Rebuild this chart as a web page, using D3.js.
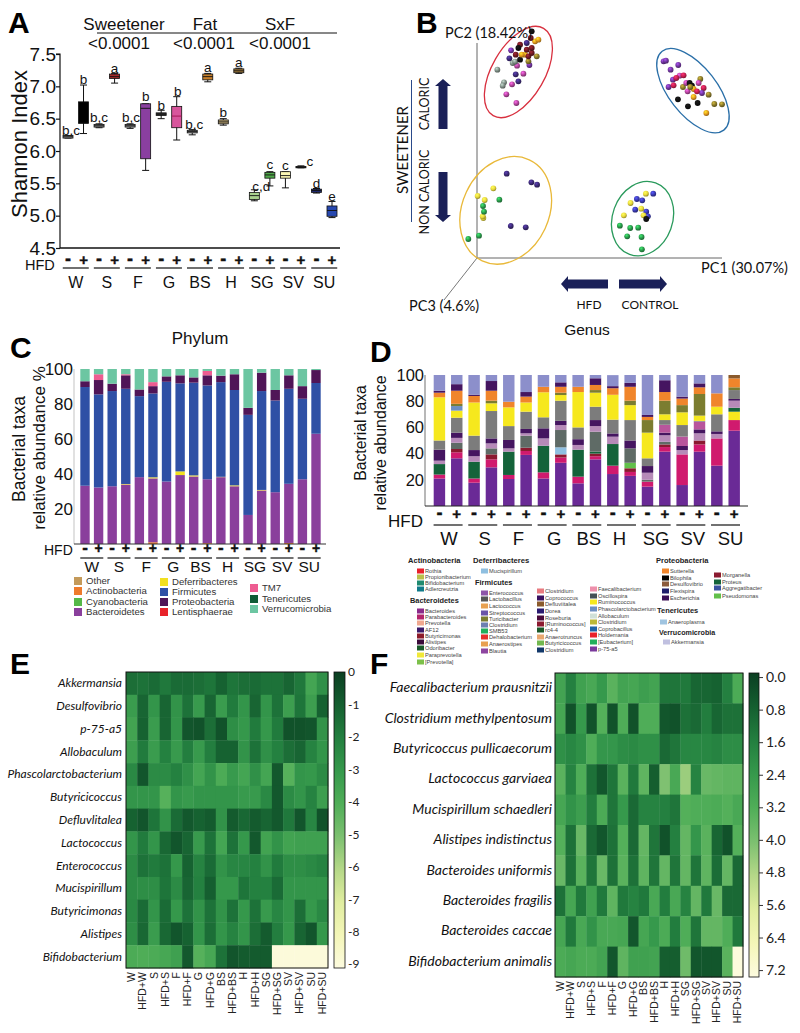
<!DOCTYPE html>
<html><head><meta charset="utf-8">
<script src="https://cdn.jsdelivr.net/npm/d3@7/dist/d3.min.js"></script>
<style>
html,body{margin:0;padding:0;background:#fff}
svg{display:block}
text{font-family:"Liberation Sans",Arial,sans-serif;fill:#111}
.lato{font-family:Lato,"Open Sans",sans-serif}
</style></head><body><div id="c"></div>
<script>
const groups=["W","S","F","G","BS","H","SG","SV","SU"];
const conditions=["W","HFD+W","S","HFD+S","F","HFD+F","G","HFD+G","BS","HFD+BS","H","HFD+H","SG","HFD+SG","SV","HFD+SV","SU","HFD+SU"];

// Panel A
const boxQ1=[6.2,6.43,6.37,7.12,6.37,5.88,6.55,6.36,6.28,7.1,6.42,7.21,5.25,5.58,5.58,5.74,5.36,4.99];
const boxMed=[6.22,6.43,6.39,7.15,6.39,6.66,6.57,6.54,6.3,7.15,6.45,7.24,5.31,5.63,5.62,5.75,5.39,5.08];
const boxQ3=[6.24,6.76,6.41,7.19,6.41,6.73,6.59,6.69,6.32,7.19,6.48,7.27,5.36,5.67,5.68,5.76,5.41,5.15];
const boxLo=[6.2,6.27,6.36,7.05,6.35,5.7,6.5,6.17,6.25,7.07,6.4,7.2,5.23,5.46,5.43,5.74,5.35,4.97];
const boxHi=[6.24,7.02,6.42,7.2,6.42,6.73,6.63,6.84,6.33,7.2,6.5,7.28,5.4,5.68,5.68,5.77,5.42,5.22];
const boxColors=["#999","#000","#999","#a52a2a","#999","#8a3fa0","#333","#d8559c","#999","#c77f2a","#c4ad78","#a47c3a","#a8d08d","#4fa84a","#fbf7b5","#222","#1f2a70","#2748b0"];
const letters=["b,c","b","b,c","a","b,c","b","b","b","b,c","a","b","a","c,d","c","c","c","d","e"];
const letterAt=[6.25,7.04,6.45,7.2,6.45,6.77,6.63,6.85,6.34,7.22,6.53,7.3,5.38,5.72,5.71,5.77,5.43,5.23];
const letterShift=[3,0,0,0,1,0,0,1,2,0,0,0,7,0,0,9,0,0];
const shannonTicks=[4.5,5,5.5,6,6.5,7,7.5];
const testHeads=["Sweetener","Fat","SxF"];
const testP=["<0.0001","<0.0001","<0.0001"];

// Panel B : scores
const pcaRed=[[61,565,"g"],[81,527,"g"],[77,517,"g"],[105,521,"m"],[124,530,"n"],[88,491,"m"],[118,465,"m"],[116,551,"n"],[139,553,"m"],[120,577,"m"],[107,585,"g"],[114,589,"g"],[97,599,"n"],[102,623,"p"],[116,610,"r"],[129,595,"k"],[157,579,"p"],[179,605,"o"],[154,590,"o"],[144,610,"y"],[134,610,"y"],[154,605,"r"],[164,615,"r"],[149,625,"r"],[129,640,"r"],[149,645,"n"],[174,650,"y"],[161,660,"r"],[164,630,"r"],[124,630,"k"],[184,655,"y"],[164,680,"k"]];
const pcaBlue=[[559,590,"p"],[566,592,"p"],[580,565,"p"],[603,579,"p"],[607,547,"m"],[587,535,"p"],[619,548,"c"],[597,540,"c"],[574,513,"p"],[589,518,"c"],[617,513,"o"],[627,525,"m"],[644,517,"k"],[637,525,"k"],[669,537,"o"],[664,525,"m"],[631,500,"m"],[649,507,"y"],[679,510,"c"],[674,495,"p"],[694,490,"o"],[649,483,"y"],[602,476,"k"],[632,455,"k"],[661,465,"k"],[711,462,"o"],[734,461,"o"],[687,435,"y"],[639,513,"o"],[659,500,"c"]];
const pcaGold=[[89,253,"n"],[163,227,"n"],[180,220,"n"],[101,96,"n"],[146,92,"n"],[49,209,"l"],[2,186,"l"],[23,174,"l"],[19,120,"l"],[17,125,"l"],[67,175,"e"],[18,156,"e"],[21,139,"e"],[-26,57,"e"],[6,67,"e"]];
const pcaGreen=[[528,193,"b"],[479,177,"b"],[495,173,"b"],[474,145,"b"],[507,139,"b"],[512,125,"b"],[506,193,"l"],[460,165,"l"],[492,148,"l"],[440,128,"l"],[499,128,"l"],[507,117,"k"],[428,97,"e"],[459,90,"e"],[483,91,"e"],[450,65,"e"],[493,63,"e"],[494,26,"e"]];
const pointColors={g:"#7f8f86",m:"#b2459c",n:"#3c2a75",p:"#71369f",r:"#6d1a22",k:"#111",o:"#8a7a2a",y:"#e59a1d",c:"#c4204f",l:"#e8d93c",e:"#2a9a4a",b:"#3a3ab0"};
const ellipseCx=[124,647,86,496], ellipseCy=[558,502,143,118], ellipseA=[151,150,167,114], ellipseB=[79,72,130,90], ellipseTilt=[30,-38,25,20];
const ellipseColors=["#d8303f","#2a6fa8","#e9b93a","#2a9a5c"];

// Panel C
const phylaStack={
 Actinobacteria:[0,0,0,0,0,1,0,0,0,.5,0,0,0,0,0,.6,0,0],
 Bacteroidetes:[33.3,32.3,33,34,38.2,36.5,35.7,39.4,38.6,36.5,38.2,33,16.6,30.6,29.6,33.8,37,63],
 Deferribacteres:[0,0,0,.3,0,.6,0,2.1,.6,0,.2,.5,0,.3,0,0,0,0],
 Firmicutes:[56.4,53.2,54.4,54.4,46.3,47.9,57,50.3,53,53.6,54.1,54.5,57.2,56.5,52.4,54.3,46,29],
 Proteobacteria:[3.3,8.2,4.2,7.7,3.8,4.2,3.1,4.6,3,5.8,3.7,9,4,10.5,6,7.7,7.2,7.4],
 TM7:[0,3.3,0,.6,0,2.3,0,0,0,2.5,0,0,0,0,0,0,0,0],
 Verrucomicrobia:[7,3,8.4,3,11.7,7.5,4.2,3.6,4.8,1.1,3.8,3,22.2,2.1,12,3.6,9.8,.6]};
const phylaColors={Actinobacteria:"#ee7b2c",Bacteroidetes:"#8a3f9c",Deferribacteres:"#f2e020",Firmicutes:"#2f50a5",Proteobacteria:"#501557",TM7:"#ee5c91",Verrucomicrobia:"#6cc6a2"};
const phylaLegend=[["Other","#c49a5a"],["Actinobacteria","#ee7b2c"],["Cyanobacteria","#55b848"],["Bacteroidetes","#8a3f9c"],["Deferribacteres","#f2e020"],["Firmicutes","#2f50a5"],["Proteobacteria","#501557"],["Lentisphaerae","#e8232a"],["TM7","#ee5c91"],["Tenericutes","#0f5c36"],["Verrucomicrobia","#6cc6a2"]];
const abundanceTicks=[20,40,60,80,100];

// Panel D
const genusStack={
 bacteroides:[21,36.4,17.8,29.5,20.6,39,21,33,17.3,35.6,24.4,23,14.8,41.5,16,41.5,30.8,57.5],
 parabacteroides:[3,4.6,3.2,6.1,3.1,3,4.7,4,5.1,2.4,6.4,3,3.8,3.5,23.4,5.5,20.8,8.1],
 paraprevotella:[0,0,0,0,0,0,0,0,0,0,0,0,0,0,0,0,0,6.4],
 butyricimonas:[0,2.5,0,3.8,0,2.5,0,2.4,0,2,0,2.8,0,2,0,3,0,0],
 mucispirillum:[0,0,0,0,0,0,0,5.4,0,0,0,0,0,0,0,0,0,0],
 pseudomonas:[0,0,0,0,0,0,0,0,0,0,0,4.2,0,0,0,0,0,0],
 odoribacter:[8,0,12.8,0,17.8,0,20.3,0,20.6,1.5,16.5,0,0,0,0,0,0,3],
 oscillospira:[0,4.8,0,4.6,0,9.2,0,13.2,0,15.2,0,11,1.4,2,0,0,0,0],
 enterococcus:[2.6,3.7,4.2,3.8,2.5,1.8,5.6,3.8,3.6,4.3,5.6,0,5.4,5,3.3,5.5,3.4,5.4],
 alistipes:[8.4,4,4.7,3.8,6.4,3.3,7.7,3.2,4.4,4.6,2.5,6,5.1,2,3.1,3,2,1.3],
 blautia:[0,0,0,0,0,0,0,0,0,0,0,0,0,6,7.2,5.9,0,0],
 lactobacillus:[7,11.4,11,20.9,10.6,13.2,8.4,15.4,9,10.2,10.5,15.6,5.9,3.6,8.8,.6,13,6.8],
 ruminococcus:[33,5.4,25.3,5.9,14.3,7,19.1,4.3,27,10.7,19,11.4,19.6,4.4,9.7,4,5.8,0],
 phascolarctobacterium:[0,3.5,0,0,0,0,0,0,0,0,0,0,0,0,0,0,0,0],
 turicibacter:[0,1.7,0,2,0,0,0,1.8,0,2,0,3.4,9.6,10.4,5.5,16.5,0,2.1],
 sutterella:[3.5,10,5,7.6,4.3,4.5,4.2,4.5,4,3.9,5,10.6,2.4,6.6,5,5.1,10.2,6.8],
 escherichia:[1.5,5,1,7.4,0,3.5,0,3.4,0,5.1,1.6,3,1.5,9,1.5,3,0,0],
 desulfovibrio:[0,0,0,0,0,0,0,0,0,0,0,0,0,0,0,0,0,2.6],
 akkermansia:[12,7,15,4.6,20.4,13,9,5.6,9,2.5,8.4,6,30.5,4,16.5,6.4,14,0]};
const genusColors={bacteroides:"#6a2a96",parabacteroides:"#d01a6e",paraprevotella:"#f6e81e",butyricimonas:"#8b1a30",mucispirillum:"#8fbfe0",pseudomonas:"#62c04a",odoribacter:"#14633a",oscillospira:"#5f6b66",enterococcus:"#b68ab8",alistipes:"#451560",blautia:"#b8559c",lactobacillus:"#7c7c7c",ruminococcus:"#f6e81e",phascolarctobacterium:"#6d8fc2",turicibacter:"#7b7d30",sutterella:"#f0852b",escherichia:"#451560",desulfovibrio:"#8a5a2c",akkermansia:"#8c8fcb"};
const groupLabelShift=[1,2,1,2,2,-2,0,2,5];

const genusLegendHeads=[["Actinobacteria",408,563],["Deferribacteres",473,563],["Firmicutes",475,585],["Bacteroidetes",410,603],["Proteobacteria",656,563],["Tenericutes",657,613],["Verrucomicrobia",659,635]];
const genusLegend=[
 ["Rothia","#e8202a",417,571],["Propionibacterium","#b9c04a",417,577],["Bifidobacterium","#1f8a70",417,583],["Adlercreutzia","#0f7a8a",417,589],
 ["Bacteroides","#8b2a8b",417,611],["Parabacteroides","#b3246c",417,617],["Prevotella","#f0a890",417,623],["AF12","#3a1a6a",417,630],["Butyricimonas","#8b1a2a",417,636],["Alistipes","#3a0a3a",417,642],["Odoribacter","#1a5a2a",417,648],["Paraprevotella","#f0e838",417,655],["[Prevotella]","#7cc04a",417,662],
 ["Mucispirillum","#8fbfe0",481,571],
 ["Enterococcus","#8e55a8",481,593],["Lactobacillus","#555",481,599],["Lactococcus","#e8a050",481,606],["Streptococcus","#6a55a8",481,613],["Turicibacter","#7b7d30",481,619],["Clostridium","#6d80b0",481,625],["SMB53","#22b05a",481,631],["Dehalobacterium","#e8302a",481,637],["Anaerostipes","#e8a050",481,644],["Blautia","#8e45a0",481,651],
 ["Clostridium","#e87a80",537,591],["Coprococcus","#3a1060",537,598],["Defluviitalea","#8a5a2c",537,604],["Dorea","#2a1a70",537,611],["Roseburia","#4a0a3a",537,618],["[Ruminococcus]","#8b1a30",537,624],["rc4-4","#1a5a2a",537,630],["Anaerotruncus","#e8a870",537,637],["Butyricicoccus","#72b850",537,643],["Clostridium","#12386a",537,650],
 ["Faecalibacterium","#ee90ac",590,589],["Oscillospira","#445055",590,596],["Ruminococcus","#f6e81e",590,602],["Phascolarctobacterium","#6d8fc2",590,609],["Allobaculum","#d0e0d8",590,616],["Clostridium","#bcb838",590,622],["Coprobacillus","#1e62a8",590,629],["Holdemania","#e8202a",590,635],["[Eubacterium]","#22b05a",590,642],["p-75-a5","#7a3a9c",590,649],
 ["Sutterella","#f0852b",662,571],["Bilophila","#000",662,578],["Desulfovibrio","#8a5a3c",662,584],["Flexispira","#1e1e6a",662,591],["Escherichia","#3a0f55",662,598],
 ["Morganella","#8b1a30",714,575],["Proteus","#14633a",714,582],["Aggregatibacter","#3a52a0",714,588],["Pseudomonas","#62c04a",714,596],
 ["Anaeroplasma","#a0c4e0",660,622],["Akkermansia","#c0c0e0",663,642]];

// Panel E
const rowsE=["Akkermansia","Desulfovibrio","p-75-a5","Allobaculum","Phascolarctobacterium","Butyricicoccus","Defluvlitalea","Lactococcus","Enterococcus","Mucispirillum","Butyricimonas","Alistipes","Bifidobacterium"];
const heatE=[
[-1.5,-1.6,-1.4,-1.8,-1.4,-1.4,-1.5,-1.7,-1.1,-1.7,-1.5,-1.4,-1.6,-1.6,-1.2,-1.8,-3.6,-2.7],
[-3.2,-1.2,-2.9,-1.2,-2.8,-1.6,-3.1,-1.2,-3.2,-1.9,-2.9,-1.2,-2.9,-1.6,-3.3,-1.7,-3.3,-1.1],
[-3.5,-1.1,-3.2,-1.2,-2.9,-.7,-.6,-1.5,-.6,-2.6,-3,-1.9,-3,-1.9,-.6,-.6,-.7,-2.8],
[-3.3,-1.9,-3.2,-2.1,-3.1,-2,-3.1,-2,-1.1,-1.1,-2.8,-1.6,-2.7,-2.1,-1.5,-1.2,-2.2,-2.9],
[-2.4,-.7,-2.5,-2.5,-2.1,-2.7,-3.6,-2.8,-3.9,-3.1,-3.6,-2.7,-3.6,-.8,-4.2,-2.9,-3,-2.5],
[-2.9,-2.9,-2.9,-4.2,-2.9,-3.1,-2.9,-2.9,-2.9,-2.9,-3.1,-3.1,-2.4,-.8,-2.5,-2.9,-2.2,-3.3],
[-1.1,-.7,-1.7,-2.8,-1.4,-.8,-1.1,-.9,-2.8,-.9,-1.3,-.9,-1.2,-.8,-1.8,-.7,-2.3,-.6],
[-2.9,-1.9,-2.9,-1.3,-.7,-1.2,-3.1,-1.6,-3.6,-1.6,-3,-.8,-3.5,-2.8,-3.5,-3.4,-3.4,-3.4],
[-2.5,-1.6,-1.9,-1.6,-3,-1.1,-2.2,-1.4,-2.8,-2.3,-2.3,-2.1,-2.8,-1.9,-2.6,-2.6,-2.4,-2.2],
[-2.5,-2.6,-2.6,-1.7,-2.5,-1.2,-2.1,-1,-3,-3,-1.7,-2.1,-2.1,-1.4,-2.9,-2.9,-2.9,-2.9],
[-2.4,-1.4,-2.9,-1.4,-3,-1.6,-2.8,-1.6,-2.8,-1.6,-3,-1.6,-3.1,-2.3,-2.9,-1.5,-3,-2.4],
[-2.6,-1.3,-3.2,-1.3,-.7,-1.1,-2.9,-1.5,-2.9,-2.2,-2.9,-1.5,-.9,-2,-3,-1.2,-.7,-3],
[-3.9,-4,-3.9,-3.7,-3.4,-.8,-4.2,-3.7,-1.6,-.7,-.9,-.9,-.9,-9,-9,-9,-9,-9]];
const ticksE=[0,-1,-2,-3,-4,-5,-6,-7,-8,-9];

// Panel F
const rowsF=["Faecalibacterium prausnitzii","Clostridium methylpentosum","Butyricoccus pullicaecorum","Lactococcus garviaea","Mucispirillum schaedleri","Alistipes indistinctus","Bacteroides uniformis","Bacteroides fragilis","Bacteroides caccae","Bifidobacterium animalis"];
const heatF=[
[2.8,1.6,2.7,3,2.4,3.4,2.8,2.9,2.6,2.8,1.3,1.3,1.4,.9,.9,.8,1.6,3.1],
[2.9,.4,2.4,.4,3.3,.4,3.2,.4,3.2,3.2,.5,.4,1.2,1,1.5,.9,1.2,1.2],
[2.1,1.8,2.1,3.2,2.3,2.3,2,1.9,2.1,2.1,1,1.3,1.8,1.8,1.8,1.7,2,2],
[3.4,1.7,3.2,1.2,.5,1.3,3.4,1.4,3.5,.7,4.1,3,4.5,1.7,3.7,3.6,3.5,3.5],
[2.9,2.2,2.6,1.5,3.1,1.3,2.4,1,1.7,1.7,1.6,1.3,3.3,3.2,3.2,3.1,3.3,3],
[3.3,1.2,3.7,1,.5,1.2,3.3,1,3.6,1.3,.4,1.6,3.6,2.3,3.4,.9,.4,3.3],
[3.7,1.2,3.4,1.3,3.7,1.2,3.4,1.2,3.5,1.3,3.6,1.3,3.6,1.3,3.5,1.1,3.6,1],
[1.2,2.9,1.4,2.7,1.4,3.5,1.4,1.7,1.4,3,1.5,3,1.7,3.6,1.4,3.7,1,1],
[2.9,1.4,3,2.2,3,3,2.9,.5,2.9,2.4,3.1,1.5,3.2,1.3,3.6,3.6,3.2,1.4],
[3.1,2.9,3.1,3.1,2.8,.5,3.5,2.7,2.7,2.8,.7,.7,3.8,.5,.5,.5,3.4,7.3]];
const ticksF=[0,.8,1.6,2.4,3.2,4,4.8,5.6,6.4,7.2];
const heatRamp=["#0b3f22","#155f30","#237f3f","#36994c","#50ae58","#7cc070","#b5d888","#e0eda0","#f4f6b8","#fdfbdf"];

const W=800,H=1033;
const svg=d3.select("#c").append("svg").attr("width",W).attr("height",H).attr("viewBox",[0,0,W,H]);
svg.append("rect").attr("width",W).attr("height",H).attr("fill","#fff");
const T=(g,x,y,s,size,opt={})=>{const t=g.append("text").attr("x",x).attr("y",y).attr("font-size",size).text(s);
 if(opt.anchor)t.attr("text-anchor",opt.anchor); if(opt.bold)t.attr("font-weight","bold");
 if(opt.cls)t.attr("class",opt.cls); if(opt.rot)t.attr("transform",`rotate(${opt.rot} ${x} ${y})`); if(opt.italic)t.attr("font-style","italic"); if(opt.fill)t.style("fill",opt.fill); return t;};
[["A",8,33],["B",416,33],["C",10,358],["D",370,362],["E",10,674],["F",370,674]].forEach(d=>T(svg,d[1],d[2],d[0],30,{bold:1,fill:"#000"}));
const axisStyle=(g,w,fs)=>{g.selectAll("path,line").attr("stroke","#111").attr("stroke-width",w);g.selectAll("text").attr("font-size",fs).style("fill","#111");};

// A --------------------------------------------------
const A=svg.append("g");
const ax=d3.scalePoint().domain(d3.range(18)).range([68,332]);
const ay=d3.scaleLinear().domain([4.5,7.5]).range([248,54]);
A.append("g").attr("transform","translate(60,0)").call(d3.axisLeft(ay).tickValues(shannonTicks).tickFormat(d3.format(".1f")).tickSize(4).tickPadding(0)).call(axisStyle,1.2,19).select(".domain").attr("d","M-4,54H0V248");
A.append("line").attr("x1",60).attr("x2",340).attr("y1",ay(4.5)).attr("y2",ay(4.5)).attr("stroke","#111").attr("stroke-width",1.3);
T(A,27,144,"Shannon Index",22,{anchor:"middle",rot:-90});
d3.range(18).forEach(i=>{const x=ax(i),g=A.append("g");
 g.append("line").attr("x1",x).attr("x2",x).attr("y1",ay(boxLo[i])).attr("y2",ay(boxHi[i])).attr("stroke","#111").attr("stroke-width",1);
 [boxLo[i],boxHi[i]].forEach(v=>g.append("line").attr("x1",x-3.5).attr("x2",x+3.5).attr("y1",ay(v)).attr("y2",ay(v)).attr("stroke","#111").attr("stroke-width",1));
 g.append("rect").attr("x",x-5).attr("width",10).attr("y",ay(boxQ3[i])).attr("height",Math.max(1,ay(boxQ1[i])-ay(boxQ3[i]))).attr("fill",boxColors[i]).attr("stroke","#111").attr("stroke-width",.8);
 g.append("line").attr("x1",x-5).attr("x2",x+5).attr("y1",ay(boxMed[i])).attr("y2",ay(boxMed[i])).attr("stroke",i==7?"#a01050":"#111").attr("stroke-width",.9);
 T(A,x+letterShift[i],ay(letterAt[i]),letters[i],13.5,{anchor:"middle"});
});
testHeads.forEach((s,i)=>T(A,[124,205,280][i],30,s,17,{anchor:"middle"}));
testP.forEach((s,i)=>T(A,[119,204,280][i],49,s,17,{anchor:"middle"}));
A.append("line").attr("x1",97).attr("x2",337).attr("y1",33).attr("y2",33).attr("stroke","#111").attr("stroke-width",1);
function hfdRow(g,xs,step,yPm,yLine,yLab,half,pmSize,labSize,shift,hx,hy,hs){
 T(g,hx,hy,"HFD",hs,{});
 groups.forEach((gr,i)=>{const a=xs(i*2),b=xs(i*2+1),m=(a+b)/2;
  T(g,a,yPm,"-",pmSize+3,{anchor:"middle",bold:1}).attr("stroke","#111").attr("stroke-width",.4);
  T(g,b,yPm,"+",pmSize,{anchor:"middle",bold:1}).attr("stroke","#111").attr("stroke-width",.4);
  g.append("line").attr("x1",m-half).attr("x2",m+half).attr("y1",yLine).attr("y2",yLine).attr("stroke","#111").attr("stroke-width",1.2);
  T(g,m+(shift?shift[i]:0),yLab,gr,labSize,{anchor:"middle"});});
}
hfdRow(A,ax,0,265,268,288,13,15,16,null,25,270,14.5);

// B --------------------------------------------------
const B=svg.append("g");
const bx=d3.scaleLinear().domain([0,734]).range([477,722]);
const by=d3.scaleLinear().domain([0,645]).range([258,43]);
[[0,0,0,645],[0,734,0,0]].forEach(d=>B.append("line").attr("x1",bx(d[0])).attr("x2",bx(d[1])).attr("y1",by(d[2])).attr("y2",by(d[3])).attr("stroke","#666").attr("stroke-width",1));
B.append("line").attr("x1",bx(0)).attr("y1",by(0)).attr("x2",444).attr("y2",300).attr("stroke","#555").attr("stroke-width",.8);
ellipseCx.forEach((c,i)=>B.append("ellipse").attr("cx",bx(c)).attr("cy",by(ellipseCy[i]))
 .attr("rx",bx(ellipseB[i])-bx(0)).attr("ry",bx(ellipseA[i])-bx(0))
 .attr("transform",`rotate(${ellipseTilt[i]} ${bx(c)} ${by(ellipseCy[i])})`)
 .attr("fill","none").attr("stroke",ellipseColors[i]).attr("stroke-width",1.3));
const defs=svg.append("defs");
Object.entries(pointColors).forEach(([k,c])=>{const gr=defs.append("radialGradient").attr("id","s"+k).attr("cx","38%").attr("cy","32%").attr("r","70%");
 gr.append("stop").attr("offset","0%").attr("stop-color",d3.color(c).brighter(1.2));
 gr.append("stop").attr("offset","55%").attr("stop-color",c);
 gr.append("stop").attr("offset","100%").attr("stop-color",d3.color(c).darker(1.3));});
[pcaRed,pcaBlue,pcaGold,pcaGreen].forEach(set=>B.append("g").selectAll("circle").data(set).join("circle")
 .attr("cx",d=>bx(d[0])).attr("cy",d=>by(d[1])).attr("r",2.9).attr("fill",d=>`url(#s${d[2]})`));
const navy="#1a2058";
function arrow(g,x0,y0,x1,y1){
 const L=Math.hypot(x1-x0,y1-y0),ux=(x1-x0)/L,uy=(y1-y0)/L,nx=-uy,ny=ux,s=4.5,h=8,hl=7;
 const p=(a,b)=>[x0+ux*a+nx*b,y0+uy*a+ny*b];
 g.append("polygon").attr("points",[p(0,-s),p(L-hl,-s),p(L-hl,-h),p(L,0),p(L-hl,h),p(L-hl,s),p(0,s)].map(q=>q.join(",")).join(" ")).attr("fill",navy);}
arrow(B,443,129,443,79);arrow(B,443,172,443,222);arrow(B,608,284,561,284);arrow(B,619,284,667,284);
B.append("line").attr("x1",411.5).attr("x2",411.5).attr("y1",80).attr("y2",222).attr("stroke","#2a4a8a").attr("stroke-width",1);
T(B,408,150,"SWEETENER",15,{anchor:"middle",rot:-90,cls:"lato"});
T(B,429,104,"CALORIC",12.5,{anchor:"middle",rot:-90,cls:"lato"});
T(B,429,192,"NON CALORIC",12.5,{anchor:"middle",rot:-90,cls:"lato"});
T(B,589,309,"HFD",12,{anchor:"middle",cls:"lato"});T(B,650,309,"CONTROL",12,{anchor:"middle",cls:"lato"});
T(B,587,335,"Genus",15.5,{anchor:"middle"});
T(B,445,38,"PC2 (18.42%)",14.5,{cls:"lato"});T(B,701,273,"PC1 (30.07%)",14.5,{cls:"lato"});T(B,409,311,"PC3 (4.6%)",14.5,{cls:"lato"});

// C --------------------------------------------------
const C=svg.append("g");
const cx=d3.scaleBand().domain(d3.range(18)).range([76.1,324.9]).padding(.31);
const cy=d3.scaleLinear().domain([0,100]).range([544,369]);
const cKeys=Object.keys(phylaStack);
const cSeries=d3.stack().keys(cKeys).value((i,k)=>phylaStack[k][i])(d3.range(18));
C.selectAll("g.s").data(cSeries).join("g").attr("fill",s=>phylaColors[s.key]).selectAll("rect").data(s=>s.map((d,i)=>({d,i}))).join("rect")
 .attr("x",e=>cx(e.i)).attr("width",cx.bandwidth()).attr("y",e=>cy(e.d[1])).attr("height",e=>cy(e.d[0])-cy(e.d[1]));
C.append("g").attr("transform","translate(74,0)").call(d3.axisLeft(cy).tickValues(abundanceTicks).tickSize(0).tickPadding(1)).call(axisStyle,.7,17).select(".domain").attr("d","M0,369V544").attr("stroke","#aaa");
C.append("line").attr("x1",74).attr("x2",326).attr("y1",544).attr("y2",544).attr("stroke","#333").attr("stroke-width",1);
T(C,200,344,"Phylum",17,{anchor:"middle"});
T(C,25,449,"Bacterial taxa",17.5,{anchor:"middle",rot:-90});
T(C,45,448,"relative abundance %",17,{anchor:"middle",rot:-90});
const cc=i=>cx(i)+cx.bandwidth()/2;
hfdRow(C,cc,0,553,558,572,11.5,14,15.5,null,44,555,14);
const legPos=[[77,581],[77,591],[77,602],[77,612],[163,582],[163,592],[163,602],[163,612],[253,588],[253,599],[253,609]];
phylaLegend.forEach((d,i)=>{const [x,y]=legPos[i];C.append("rect").attr("x",x-3).attr("y",y-4).attr("width",8).attr("height",8).attr("fill",d[1]);T(C,x+9,y+3,d[0],9.6,{fill:"#333"});});

// D --------------------------------------------------
const D=svg.append("g");
const dx=d3.scaleBand().domain(d3.range(18)).range([427.8,745.8]).padding(.34);
const dy=d3.scaleLinear().domain([0,100]).range([506,375]);
const dKeys=Object.keys(genusStack);
const dSeries=d3.stack().keys(dKeys).value((i,k)=>genusStack[k][i])(d3.range(18));
D.selectAll("g.s").data(dSeries).join("g").attr("fill",s=>genusColors[s.key]).selectAll("rect").data(s=>s.map((d,i)=>({d,i}))).join("rect")
 .attr("x",e=>dx(e.i)).attr("width",dx.bandwidth()).attr("y",e=>dy(e.d[1])).attr("height",e=>dy(e.d[0])-dy(e.d[1]));
D.append("g").attr("transform","translate(425,0)").call(d3.axisLeft(dy).tickValues(abundanceTicks).tickSize(0).tickPadding(1)).call(axisStyle,.7,16.5).select(".domain").attr("d","M0,375V506").attr("stroke","#333");
D.append("line").attr("x1",425).attr("x2",748).attr("y1",506).attr("y2",506).attr("stroke","#222").attr("stroke-width",1);
T(D,366,433,"Bacterial taxa",15.8,{anchor:"middle",rot:-90});
T(D,386,443,"relative abundance",16,{anchor:"middle",rot:-90});
const dc=i=>dx(i)+dx.bandwidth()/2;
hfdRow(D,dc,0,519,525,545,14.5,15,18.5,groupLabelShift,388,527,17);
genusLegendHeads.forEach(d=>T(D,d[1],d[2],d[0],7,{bold:1,fill:"#222"}).attr("textLength",d[0].length*3.75).attr("lengthAdjust","spacingAndGlyphs"));
genusLegend.forEach(d=>{D.append("rect").attr("x",d[2]).attr("y",d[3]-2.5).attr("width",7).attr("height",5).attr("fill",d[1]);
 T(D,d[2]+8,d[3]+2.2,d[0],5.7,{fill:"#444"});});

// E, F -----------------------------------------------
function heat(g,rows,data,x0,x1,y0,y1,bx0,bx1,domTop,domBot,labelEnd,labelSize,colY,ticks,fmt,tx){
 const xs=d3.scaleBand().domain(conditions).range([x0,x1]);
 const ys=d3.scaleBand().domain(rows).range([y0,y1]);
 const bar=d3.scaleLinear().domain([domTop,domBot]).range([y0,y1]);
 const ramp=d3.scaleLinear().domain(heatRamp.map((c,i)=>i/9)).range(heatRamp).interpolate(d3.interpolateRgb);
 const col=v=>ramp(Math.min(1,Math.max(0,(v-domTop)/(domBot-domTop))));
 rows.forEach((r,ri)=>data[ri].forEach((v,ci)=>g.append("rect").attr("x",xs(conditions[ci])).attr("y",ys(r)).attr("width",xs.bandwidth()+.4).attr("height",ys.bandwidth()+.4).attr("fill",col(v))));
 g.append("rect").attr("x",x0).attr("y",y0).attr("width",x1-x0).attr("height",y1-y0).attr("fill","none").attr("stroke","#111").attr("stroke-width",1);
 rows.forEach(r=>T(g,labelEnd,ys(r)+ys.bandwidth()/2+4,r,labelSize,{anchor:"end",italic:1,cls:"lato"}));
 conditions.forEach(c=>{const x=xs(c)+xs.bandwidth()/2+3.5;T(g,x,colY,c,10.5,{anchor:"end",rot:-90,fill:"#222"});});
 const gid="grad"+x0;const gr=defs.append("linearGradient").attr("id",gid).attr("x1",0).attr("x2",0).attr("y1",0).attr("y2",1);
 heatRamp.forEach((c,i)=>gr.append("stop").attr("offset",i/9).attr("stop-color",c));
 g.append("rect").attr("x",bx0).attr("y",y0).attr("width",bx1-bx0).attr("height",y1-y0).attr("fill",`url(#${gid})`).attr("stroke","#111").attr("stroke-width",.8);
 const ag=g.append("g").attr("transform",`translate(${bx1},0)`).call(d3.axisRight(bar).tickValues(ticks).tickFormat(fmt).tickSize(tx.size).tickPadding(tx.pad));
 ag.select(".domain").remove(); ag.selectAll("line").attr("stroke","#333");ag.selectAll("text").attr("font-size",tx.font).attr("class","lato").style("fill","#222");
}
heat(svg.append("g"),rowsE,heatE,126,328,672,968,334,345,0,-9.12,122,12,972,ticksE,v=>String(v),{size:0,pad:3,font:12});
heat(svg.append("g"),rowsF,heatF,555,743,673,977,749,759,-.1,7.37,552,14,981,ticksF,d3.format(".1f"),{size:4,pad:3,font:14});
</script></body></html>
